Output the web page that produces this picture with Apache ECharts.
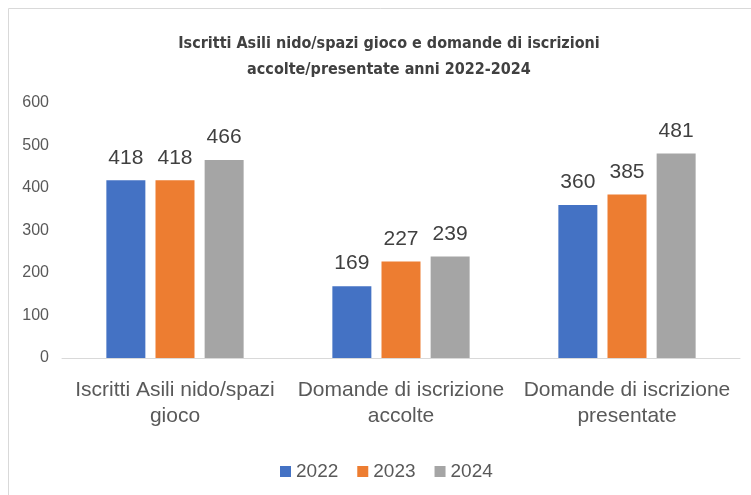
<!DOCTYPE html>
<html>
<head>
<meta charset="utf-8">
<script src="https://cdn.jsdelivr.net/npm/echarts@6/dist/echarts.min.js"></script>
<style>
  html, body { margin: 0; padding: 0; background: #fff; }
  #chart { width: 751px; height: 495px; }
</style>
</head>
<body>
<div id="chart"></div>
<script>
const categories = ['Iscritti Asili nido/spazi\ngioco', 'Domande di iscrizione\naccolte', 'Domande di iscrizione\npresentate']
const years = ['2022', '2023', '2024']
const values2022 = [418, 169, 360]
const values2023 = [418, 227, 385]
const values2024 = [466, 239, 481]
const colors = ['#4472C4', '#ED7D31', '#A5A5A5']

let myChart = echarts.init(document.getElementById('chart'))

let labelStyle = {
  show: true,
  position: 'top',
  distance: 12,
  fontSize: 21,
  color: '#404040',
  fontFamily: 'Liberation Sans'
}

myChart.setOption({
  color: colors,
  title: {
    text: 'Iscritti Asili nido/spazi gioco e domande di iscrizioni\naccolte/presentate anni 2022-2024',
    left: 384,
    top: 26,
    textAlign: 'center',
    textStyle: {
      fontFamily: 'DejaVu Sans Condensed',
      fontWeight: 'bold',
      fontSize: 16,
      lineHeight: 26,
      color: '#404040'
    }
  },
  graphic: [
    {
      type: 'rect',
      shape: { x: 8.5, y: 8.5, width: 800, height: 600 },
      style: { fill: 'none', stroke: '#d9d9d9', lineWidth: 1 },
      silent: true
    }
  ],
  legend: {
    data: years,
    top: 457,
    left: 275,
    itemWidth: 11,
    itemHeight: 11,
    itemGap: 19,
    icon: 'rect',
    textStyle: { fontSize: 19, color: '#595959', fontFamily: 'Liberation Sans' }
  },
  grid: { left: 62, right: 11, top: 103, bottom: 137 },
  xAxis: {
    type: 'category',
    data: categories,
    axisLine: { lineStyle: { color: '#d9d9d9' } },
    axisTick: { show: false },
    axisLabel: {
      margin: 19,
      fontSize: 21,
      lineHeight: 26,
      color: '#595959',
      fontFamily: 'Liberation Sans',
      interval: 0
    }
  },
  yAxis: {
    type: 'value',
    min: 0,
    max: 600,
    interval: 100,
    splitLine: { show: false },
    axisLine: { show: false },
    axisTick: { show: false },
    axisLabel: { margin: 13, fontSize: 16, color: '#595959', fontFamily: 'Liberation Sans' }
  },
  series: [
    { name: years[0], type: 'bar', data: values2022, barWidth: 39, barGap: '26%', label: labelStyle },
    { name: years[1], type: 'bar', data: values2023, barWidth: 39, barGap: '26%', label: labelStyle },
    { name: years[2], type: 'bar', data: values2024, barWidth: 39, barGap: '26%', label: labelStyle }
  ]
})
</script>
</body>
</html>
